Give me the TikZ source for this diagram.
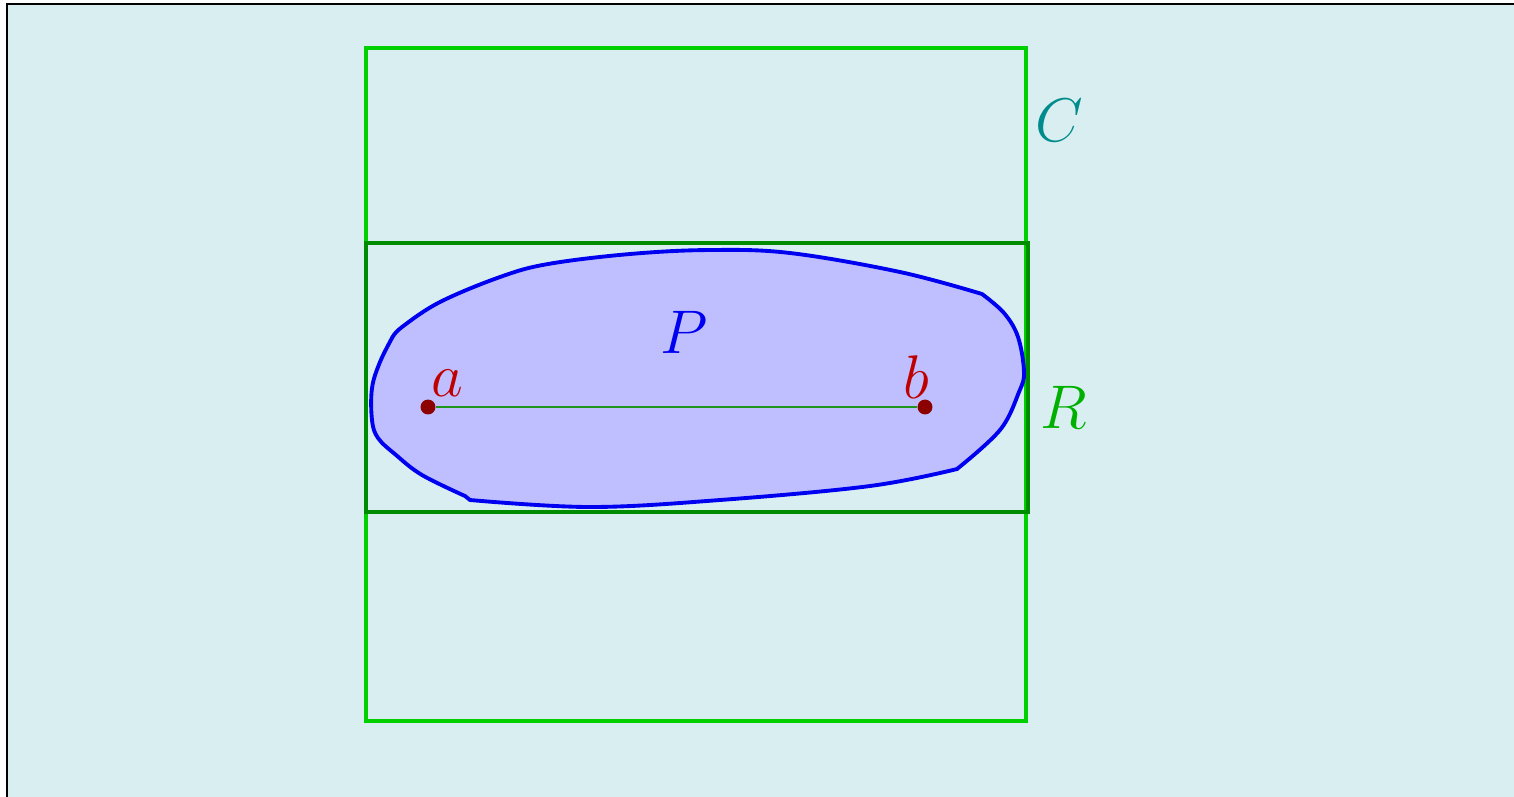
\documentclass[tikz,border=0pt]{standalone}
\begin{document}
\begin{tikzpicture}[x=0.02cm,y=-0.02cm,
  bgcol/.style={fill={rgb,255:red,217;green,238;blue,240},draw=black,line width=1.2pt},
  crect/.style={draw={rgb,255:red,0;green,208;blue,0},line width=2.6pt},
  rrect/.style={draw={rgb,255:red,0;green,140;blue,0},line width=2.6pt},
  blob/.style={draw={rgb,255:red,0;green,0;blue,240},fill={rgb,255:red,191;green,191;blue,255},line width=2.2pt,line join=round},
  dot/.style={circle,fill={rgb,255:red,140;green,0;blue,0},inner sep=0pt,minimum size=8.5pt},
  seg/.style={draw={rgb,255:red,30;green,150;blue,30},line width=1pt},
  lbl/.style={inner sep=0pt,font=\Huge,scale=1.41}
]
\useasboundingbox (0,0) rectangle (1514,796);
\path[bgcol] (7,4) rectangle (1530,812);
\draw[crect] (366,48) rectangle (1026,721);
\draw[blob] plot[smooth, tension=0.6] coordinates {(392,338) (402,327) (440,302) (500,277) (548,264) (630,254) (710,250) (790,253) (900,272) (982,294)}
 -- plot[smooth, tension=0.6] coordinates {(982,294) (1004,313) (1018,337) (1024,372) (1019,392) (1000,430) (957,469)}
 -- plot[smooth, tension=0.6] coordinates {(957,469) (870,486) (720,500) (590,507) (470,500)}
 -- (465,496)
 -- plot[smooth, tension=0.6] coordinates {(465,496) (422,475) (396,455) (378,438) (372,420) (372,388) (380,362) (392,338)} -- cycle;
\draw[rrect] (366,243) rectangle (1028,512);
\node[dot] (a) at (428,407) {};
\node[dot] (b) at (925,407) {};
\draw[seg] (a) -- (b);
\node[lbl,text={rgb,255:red,190;green,0;blue,0}] (la) at (447,383) {$a$};
\node[lbl,text={rgb,255:red,190;green,0;blue,0}] (lb) at (916,377) {$b$};
\node[lbl,text={rgb,255:red,0;green,0;blue,240}] (lp) at (684,332) {$P$};
\node[lbl,text={rgb,255:red,0;green,140;blue,140}] (lc) at (1059,120) {$C$};
\node[lbl,text={rgb,255:red,0;green,176;blue,0}] (lr) at (1064,407) {$R$};
\end{tikzpicture}
\end{document}
